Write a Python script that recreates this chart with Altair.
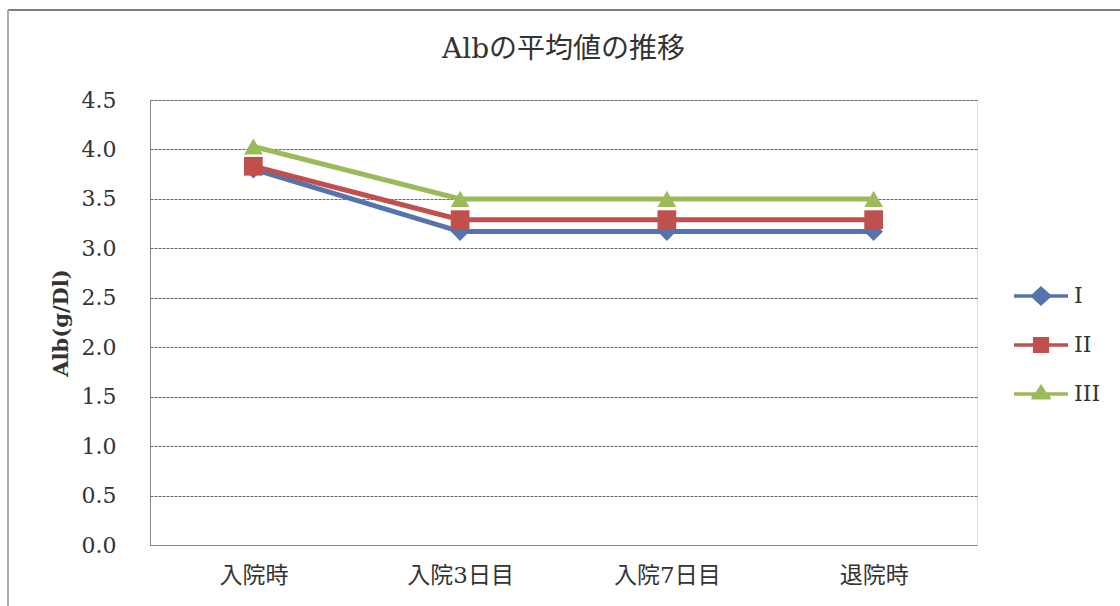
import altair as alt
import pandas as pd

categories = ["入院時", "入院3日目", "入院7日目", "退院時"]
series_names = ["I", "II", "III"]
values_I = [3.80, 3.17, 3.17, 3.17]
values_II = [3.83, 3.29, 3.29, 3.29]
values_III = [4.03, 3.50, 3.50, 3.50]
y_ticks = [0.0, 0.5, 1.0, 1.5, 2.0, 2.5, 3.0, 3.5, 4.0, 4.5]
colors = ["#5673AE", "#C0504D", "#9BBB59"]
shapes = ["diamond", "square", "triangle-up"]
legend_paths = [
    "M-1.5,-0.1 L-0.5,-0.1 L0,-0.55 L0.5,-0.1 L1.5,-0.1 L1.5,0.1 L0.5,0.1 L0,0.55 L-0.5,0.1 L-1.5,0.1 Z",
    "M-1.5,-0.1 L-0.45,-0.1 L-0.45,-0.45 L0.45,-0.45 L0.45,-0.1 L1.5,-0.1 L1.5,0.1 L0.45,0.1 L0.45,0.45 L-0.45,0.45 L-0.45,0.1 L-1.5,0.1 Z",
    "M-1.5,-0.1 L-0.3,-0.1 L0,-0.55 L0.3,-0.1 L1.5,-0.1 L1.5,0.1 L0.5,0.1 L0.55,0.3 L-0.55,0.3 L-0.5,0.1 L-1.5,0.1 Z",
]

rows = []
for name, vals in zip(series_names, [values_I, values_II, values_III]):
    for i, (c, v) in enumerate(zip(categories, vals)):
        rows.append({"cat": c, "series": name, "value": v, "order": i})
df = pd.DataFrame(rows)

FONT = "DejaVu Serif, Noto Sans CJK JP"

x_enc = alt.X("cat:N", sort=categories, title=None,
              scale=alt.Scale(paddingInner=0, paddingOuter=0),
              axis=alt.Axis(labelAngle=0, labelFontSize=23, labelFont=FONT, labelColor="#333333",
                            labelPadding=19, ticks=False, domainColor="#888888", grid=False))
y_enc = alt.Y("value:Q", title="Alb(g/Dl)",
              scale=alt.Scale(domain=[0, 4.5], nice=False),
              axis=alt.Axis(values=y_ticks, format=".1f", labelFontSize=22, labelFont=FONT,
                            labelColor="#333333", labelPadding=34, ticks=False,
                            domainColor="#888888", gridColor="#666666", gridDash=[3, 1],
                            gridWidth=1.2, titleFont=FONT, titleFontSize=21,
                            titleFontWeight="bold", titleColor="#333333", titlePadding=10))

base = alt.Chart(df)

lines = base.mark_line(strokeWidth=5).encode(
    x=x_enc, y=y_enc,
    color=alt.Color("series:N", scale=alt.Scale(domain=series_names, range=colors), legend=None),
    order="order:Q",
    detail="series:N",
)

points = base.mark_point(filled=True, size=350, opacity=1).encode(
    x=x_enc, y=y_enc,
    color=alt.Color("series:N", scale=alt.Scale(domain=series_names, range=colors), legend=None),
    shape=alt.Shape("series:N", scale=alt.Scale(domain=series_names, range=shapes), legend=None),
)

legend_layer = base.mark_point(filled=True, opacity=1).encode(
    x=x_enc, y=y_enc,
    fill=alt.Fill("series:N", scale=alt.Scale(domain=series_names, range=colors),
                  legend=alt.Legend(title=None, orient="none", legendX=873, legendY=178,
                                    symbolSize=1296, symbolStrokeWidth=0, symbolOpacity=1,
                                    labelFont=FONT, labelFontSize=22, labelColor="#333333",
                                    labelOffset=15, rowPadding=20, padding=0)),
    shape=alt.Shape("series:N", scale=alt.Scale(domain=series_names, range=legend_paths)),
).transform_filter("false")

frame_top = alt.Chart(pd.DataFrame({"a": [0]})).mark_rule(color="#555555", strokeWidth=1.5).encode(
    x=alt.value(-142), x2=alt.value(1000), y=alt.value(-90))
frame_left = alt.Chart(pd.DataFrame({"a": [0]})).mark_rule(color="#aaaaaa", strokeWidth=2).encode(
    x=alt.value(-142), y=alt.value(-90), y2=alt.value(520))

chart = alt.layer(frame_top, frame_left, lines, points, legend_layer).resolve_scale(
    shape="independent", color="independent", fill="independent"
).properties(
    width=827, height=445,
    autosize=alt.AutoSizeParams(type="none"),
    padding={"left": 150, "top": 100, "right": 143, "bottom": 61},
    title=alt.TitleParams("Albの平均値の推移", font=FONT, fontSize=28, fontWeight="normal",
                          color="#333333", anchor="middle", frame="group", offset=-55),
).configure_view(stroke=None).configure(background="white")

chart.save("out.html", embed_options={"renderer": "svg", "actions": False})
